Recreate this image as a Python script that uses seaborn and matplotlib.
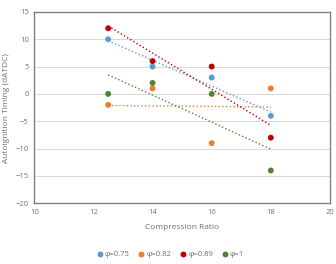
import numpy as np
import pandas as pd
import seaborn as sns
import matplotlib.pyplot as plt

compression_ratio = [12.5, 14, 16, 18]
phi_labels = ['φ=0.75', 'φ=0.82', 'φ=0.89', 'φ=1']
timing_075 = [10, 5, 3, -4]
timing_082 = [-2, 1, -9, 1]
timing_089 = [12, 6, 5, -8]
timing_100 = [0, 2, 0, -14]
colors = ['#5B9BD5', '#ED7D31', '#C00000', '#548235']

rows = []
for lab, vals in zip(phi_labels, [timing_075, timing_082, timing_089, timing_100]):
    for x, y in zip(compression_ratio, vals):
        rows.append([x, y, lab])
df = pd.DataFrame(rows, columns=['cr', 'timing', 'phi'])

sns.set_theme(style='white')
plt.rcParams['font.family'] = ['Open Sans', 'DejaVu Sans']
txt = '#707070'
fig = plt.figure(figsize=(3.36, 2.64), dpi=100)
ax = fig.add_axes([0.102, 0.23, 0.88, 0.725])

ax.set_axisbelow(True)
ax.grid(axis='y', color='#D9D9D9', linewidth=0.7)

for lab, c in zip(phi_labels, colors):
    sub = df[df['phi'] == lab]
    sns.regplot(x='cr', y='timing', data=sub, ax=ax, scatter=False, ci=None,
                color=c, line_kws={'linestyle': ':', 'linewidth': 1.0})

sns.scatterplot(x='cr', y='timing', hue='phi', data=df, ax=ax,
                palette=colors, s=18, edgecolor='none', zorder=3)

ax.set_xlim(10, 20)
ax.set_ylim(-20, 15)
ax.set_xticks(range(10, 21, 2))
ax.set_yticks(range(-20, 16, 5))
ax.tick_params(axis='both', labelsize=5.5, colors=txt, length=0, pad=4)
ax.set_xlabel('Compression Ratio', fontsize=6, color=txt, labelpad=6)
ax.set_ylabel('Autoignition Timing (dATDC)', fontsize=6, color=txt, labelpad=4)
for s in ax.spines.values():
    s.set_color('#808080')
    s.set_linewidth(1.0)

handles, labels = ax.get_legend_handles_labels()
ax.get_legend().remove()
fig.legend(handles, labels, loc='lower center', bbox_to_anchor=(0.5, -0.005), ncol=4,
           frameon=False, fontsize=5.5, handletextpad=-0.3, columnspacing=0.5,
           labelcolor=txt)

fig.savefig('out.png', dpi=100)
